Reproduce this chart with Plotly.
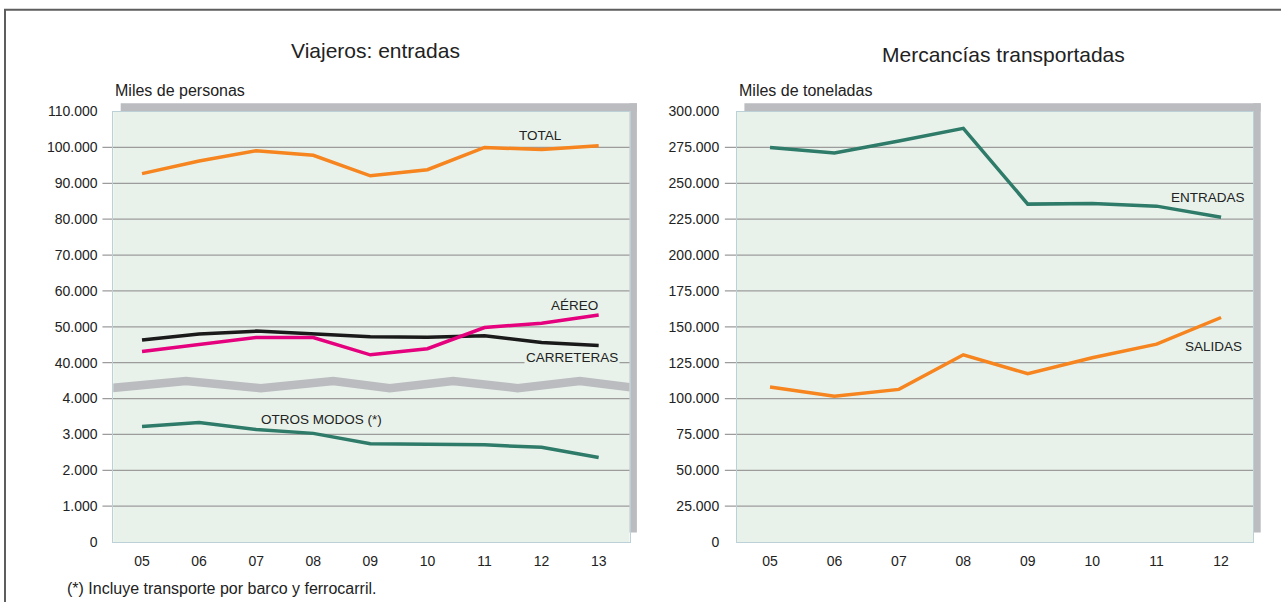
import plotly.graph_objects as go

# ---------------- data ----------------
years_left = ["05", "06", "07", "08", "09", "10", "11", "12", "13"]
total = [92700, 96200, 99100, 97800, 92100, 93800, 100000, 99400, 100500]
aereo = [43100, 45100, 47000, 47000, 42200, 43900, 49800, 51000, 53300]
carreteras = [46300, 48000, 48800, 47900, 47200, 47100, 47500, 45600, 44800]
otros_modos = [3220, 3330, 3140, 3030, 2740, 2730, 2710, 2640, 2360]

years_right = ["05", "06", "07", "08", "09", "10", "11", "12"]
entradas = [275000, 271200, 279500, 288300, 235500, 236000, 234100, 226400]
salidas = [108000, 101700, 106400, 130500, 117300, 128400, 137900, 156500]

left_ticks = [0, 1000, 2000, 3000, 4000, 40000, 50000, 60000, 70000,
              80000, 90000, 100000, 110000]
right_ticks = [0, 25000, 50000, 75000, 100000, 125000, 150000, 175000,
               200000, 225000, 250000, 275000, 300000]

# axis-break symbol (zig-zag band) in left-axis coordinates
break_x = [-0.56, 0.77, 2.08, 3.35, 4.34, 5.45, 6.58, 7.67, 8.67]
break_y = [4.29, 4.49, 4.29, 4.49, 4.29, 4.49, 4.29, 4.49, 4.29]

# ---------------- helpers ----------------
W, H = 1281, 602


def Y(y):
    # vertical placement correction measured from previous renders
    return (y - 8.3) / 0.97


def px(x):
    return x / W


def py(y):
    return 1 - Y(y) / H


def brk(v):
    """Broken left axis: 0-4.000 linear, then 40.000-110.000 linear."""
    return v / 1000 if v <= 4000 else 5 + (v - 40000) / 10000


def fmt(v):
    return f"{v:,}".replace(",", ".")


NARROW = "Liberation Sans Narrow, Arial Narrow, Liberation Sans, Arial, sans-serif"
REG = "Liberation Sans, Arial, Helvetica, sans-serif"
TXT = "#222222"
PLOT_BG = "#E8F2EA"
SHADOW = "#BBBCC0"
GRID = "#9C9C9C"
BORDER = "#BCD0D8"
ORANGE = "#F6841F"
MAGENTA = "#E5007E"
BLACK = "#1A1A1A"
TEAL = "#2E7B69"

xl = list(range(len(years_left)))
xr = list(range(len(years_right)))

fig = go.Figure()

# axis break band
fig.add_trace(go.Scatter(x=break_x, y=break_y, mode="lines",
                         line=dict(color=SHADOW, width=8.5), hoverinfo="skip",
                         xaxis="x", yaxis="y"))

# left panel lines
for vals, col in [(otros_modos, TEAL), (carreteras, BLACK), (aereo, MAGENTA), (total, ORANGE)]:
    fig.add_trace(go.Scatter(x=xl, y=[brk(v) for v in vals], mode="lines",
                             line=dict(color=col, width=3.5), xaxis="x", yaxis="y"))

# right panel lines
for vals, col in [(entradas, TEAL), (salidas, ORANGE)]:
    fig.add_trace(go.Scatter(x=xr, y=vals, mode="lines",
                             line=dict(color=col, width=3.5), xaxis="x2", yaxis="y2"))

# domains (pixels, reference space)
L_X0, L_X1 = 113.3, 629.5
R_X0, R_X1 = 737.0, 1253.3
Y_TOP, Y_BOT = 111.5, 540.5

axis_common = dict(showgrid=False, zeroline=False, showline=True, mirror=True,
                   linecolor=BORDER, linewidth=1, fixedrange=True)

fig.update_layout(
    width=W, height=H,
    margin=dict(l=0, r=0, t=0, b=0),
    paper_bgcolor="white",
    plot_bgcolor=PLOT_BG,
    showlegend=False,
    xaxis=dict(domain=[px(L_X0), px(L_X1)], range=[-0.503, 8.54],
               tickvals=xl, ticktext=years_left, ticks="outside", ticklen=6,
               tickcolor="rgba(0,0,0,0)",
               tickfont=dict(family=NARROW, size=14, color=TXT),
               anchor="y", **axis_common),
    yaxis=dict(domain=[py(Y_BOT), py(Y_TOP)], range=[0, 12],
               tickvals=[brk(v) for v in left_ticks],
               ticktext=[fmt(v) for v in left_ticks],
               ticks="outside", ticklen=12, tickcolor="rgba(0,0,0,0)",
               tickfont=dict(family=NARROW, size=14, color=TXT),
               anchor="x", **axis_common),
    xaxis2=dict(domain=[px(R_X0), px(R_X1)], range=[-0.512, 7.5],
                tickvals=xr, ticktext=years_right, ticks="outside", ticklen=6,
                tickcolor="rgba(0,0,0,0)",
                tickfont=dict(family=NARROW, size=14, color=TXT),
                anchor="y2", **axis_common),
    yaxis2=dict(domain=[py(Y_BOT), py(Y_TOP)], range=[0, 300000],
                tickvals=right_ticks, ticktext=[fmt(v) for v in right_ticks],
                ticks="outside", ticklen=14, tickcolor="rgba(0,0,0,0)",
                tickfont=dict(family=NARROW, size=14, color=TXT),
                anchor="x2", **axis_common),
)

shapes = []
# outer frame
shapes.append(dict(type="rect", xref="paper", yref="paper",
                   x0=px(5), x1=1.02, y0=py(10), y1=-0.05,
                   line=dict(color="#5E5E5E", width=2), fillcolor="rgba(0,0,0,0)",
                   layer="above"))
# drop shadows
for x0, x1 in [(L_X0, L_X1), (R_X0, R_X1)]:
    shapes.append(dict(type="rect", xref="paper", yref="paper",
                       x0=px(x0 + 7.4), x1=px(x1 + 7.4), y0=py(Y_TOP), y1=py(103.3),
                       line=dict(width=0), fillcolor=SHADOW, layer="below"))
    shapes.append(dict(type="rect", xref="paper", yref="paper",
                       x0=px(x1), x1=px(x1 + 7.4), y0=py(531), y1=py(103.3),
                       line=dict(width=0), fillcolor=SHADOW, layer="below"))
# gridlines (with short outside ticks)
for v in left_ticks[1:-1]:
    shapes.append(dict(type="line", xref="x domain", yref="y",
                       x0=-0.021, x1=1, y0=brk(v), y1=brk(v),
                       line=dict(color=GRID, width=1.3), layer="below"))
for v in right_ticks[1:-1]:
    shapes.append(dict(type="line", xref="x2 domain", yref="y2",
                       x0=-0.0235, x1=1, y0=v, y1=v,
                       line=dict(color=GRID, width=1.3), layer="below"))
fig.update_layout(shapes=shapes)

ann = []


def text(x, y, s, size, family=NARROW, xanchor="center", bg=None):
    d = dict(xref="paper", yref="paper", x=px(x), y=py(y), text=s,
             showarrow=False, xanchor=xanchor, yanchor="middle",
             font=dict(family=family, size=size, color=TXT))
    if bg:
        d["bgcolor"] = bg
    ann.append(d)


text(375, 51, "Viajeros: entradas", 21, REG)
text(1003, 55, "Mercancías transportadas", 21, REG)
text(113, 91, "Miles de personas", 16, NARROW, "left")
text(737, 91, "Miles de toneladas", 16, NARROW, "left")
text(540, 135, "TOTAL", 13.5)
text(574, 305, "AÉREO", 13.5)
text(572, 357, "CARRETERAS", 13.5, bg=PLOT_BG)
text(321, 418, "OTROS MODOS (*)", 13.5)
text(1208, 197, "ENTRADAS", 13.5)
text(1213, 346, "SALIDAS", 13.5)
text(65, 586.5, "(*) Incluye transporte por barco y ferrocarril.", 16, NARROW, "left")
fig.update_layout(annotations=ann)

fig.write_html(
    "out.html",
    config={"displayModeBar": False},
    post_script="document.body.style.margin='0';",
)
